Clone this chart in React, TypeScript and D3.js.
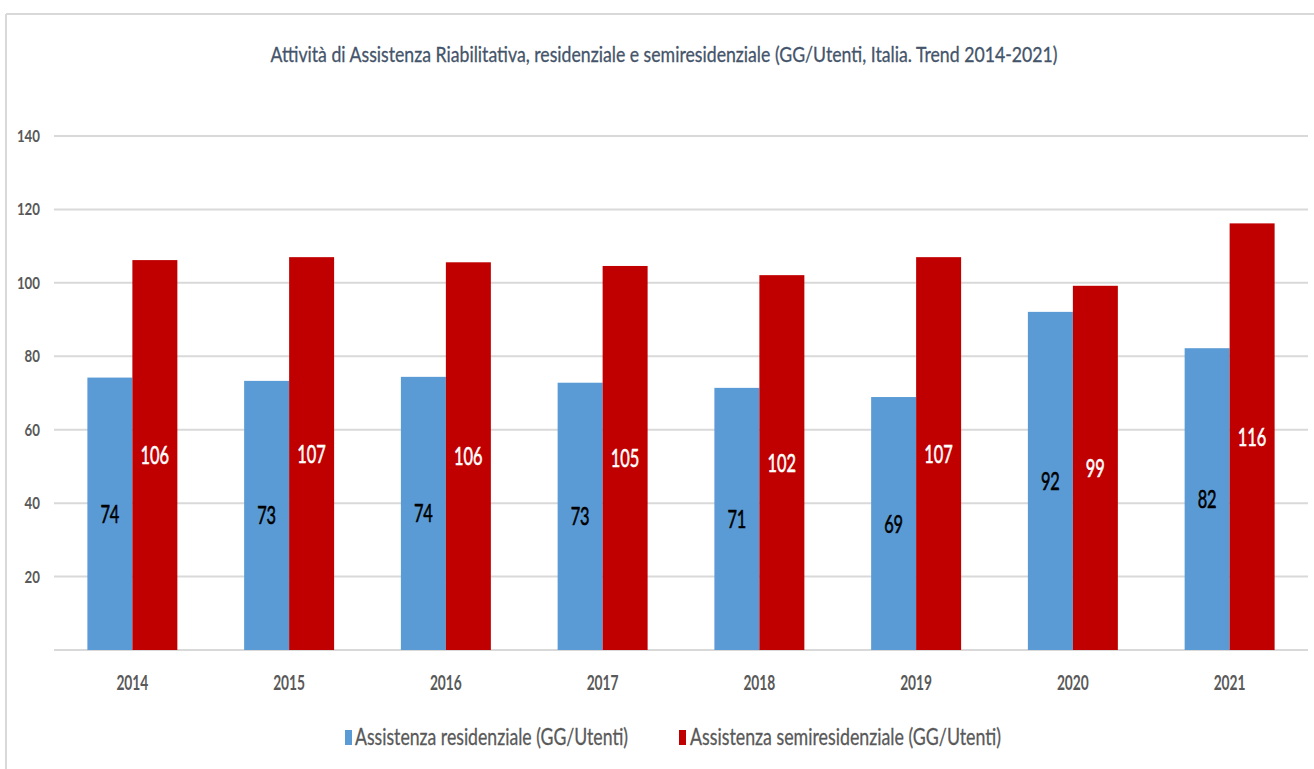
import React from "react";
import * as d3 from "d3";

const years = ["2014", "2015", "2016", "2017", "2018", "2019", "2020", "2021"];
const residenziale = [74.2, 73.3, 74.4, 72.8, 71.4, 68.9, 92.1, 82.2];
const semiresidenziale = [106.2, 107.0, 105.6, 104.6, 102.1, 107.0, 99.2, 116.2];
const yTicks = [20, 40, 60, 80, 100, 120, 140];
const seriesNames = ["Assistenza residenziale (GG/Utenti)", "Assistenza semiresidenziale (GG/Utenti)"];
const title = "Attività di Assistenza Riabilitativa, residenziale e semiresidenziale (GG/Utenti, Italia. Trend 2014-2021)";

const W = 1314;
const H = 769;
const BLUE = "#5B9BD5";
const RED = "#C00000";
const GRID = "#D9D9D9";
const FONT = "Lato, 'Open Sans', sans-serif";

export default function App() {
  const x = d3.scaleBand<string>().domain(years).range([54, 1308]).paddingInner(0.426).paddingOuter(0.213);
  const sub = d3.scaleBand<number>().domain([0, 1]).range([0, x.bandwidth()]).padding(0);
  const y = d3.scaleLinear().domain([0, 140]).range([650, 136]);
  const series = [residenziale, semiresidenziale];
  const colors = [BLUE, RED];
  const labelColors = ["#000000", "#FFFFFF"];

  return (
    <svg width={W} height={H} style={{ position: "absolute", left: 0, top: 0, background: "#fff" }} fontFamily={FONT}>
      <rect x={0} y={0} width={W} height={H} fill="#fff" />
      {/* chart border */}
      <line x1={6} x2={W} y1={14} y2={14} stroke={GRID} strokeWidth={2} />
      <line x1={6} x2={6} y1={14} y2={H} stroke={GRID} strokeWidth={2} />

      {/* title */}
      <text x={664} y={62} textAnchor="middle" fontSize={21} fill="#44546A" stroke="#44546A" strokeWidth={0.3}
        textLength={787} lengthAdjust="spacingAndGlyphs">
        {title}
      </text>

      {/* gridlines */}
      {[0, ...yTicks].map((t) => (
        <line key={t} x1={54} x2={1308} y1={y(t)} y2={y(t)} stroke={GRID} strokeWidth={2} />
      ))}
      {/* y tick labels */}
      {yTicks.map((t) => (
        <text key={t} x={40} y={y(t) + 6} textAnchor="end" fontSize={17} fontWeight="bold" fill="#595959"
          textLength={String(t).length * 7.7} lengthAdjust="spacingAndGlyphs">
          {t}
        </text>
      ))}

      {/* bars */}
      {series.map((vals, si) =>
        vals.map((v, i) => {
          const bx = (x(years[i]) as number) + (sub(si) as number);
          const bw = sub.bandwidth();
          const top = y(v);
          const label = String(Math.round(v));
          return (
            <g key={si + "-" + i}>
              <rect x={bx} y={top} width={bw} height={y(0) - top} fill={colors[si]} />
              <text x={bx + bw / 2} y={(top + y(0)) / 2 + 9} textAnchor="middle" fontSize={25} fill={labelColors[si]}
                stroke={labelColors[si]} strokeWidth={0.6}
                textLength={label.length * 9.5} lengthAdjust="spacingAndGlyphs">
                {label}
              </text>
            </g>
          );
        })
      )}

      {/* x labels */}
      {years.map((yr) => (
        <text key={yr} x={(x(yr) as number) + x.bandwidth() / 2} y={690} textAnchor="middle" fontSize={21}
          fontWeight="bold" fill="#595959" textLength={32} lengthAdjust="spacingAndGlyphs">
          {yr}
        </text>
      ))}

      {/* legend */}
      <rect x={345} y={730} width={7} height={15} fill={BLUE} />
      <text x={355} y={745} fontSize={23} fill="#595959" stroke="#595959" strokeWidth={0.3}
        textLength={273} lengthAdjust="spacingAndGlyphs">
        {seriesNames[0]}
      </text>
      <rect x={679} y={730} width={7} height={15} fill={RED} />
      <text x={690} y={745} fontSize={23} fill="#595959" stroke="#595959" strokeWidth={0.3}
        textLength={311} lengthAdjust="spacingAndGlyphs">
        {seriesNames[1]}
      </text>
    </svg>
  );
}
